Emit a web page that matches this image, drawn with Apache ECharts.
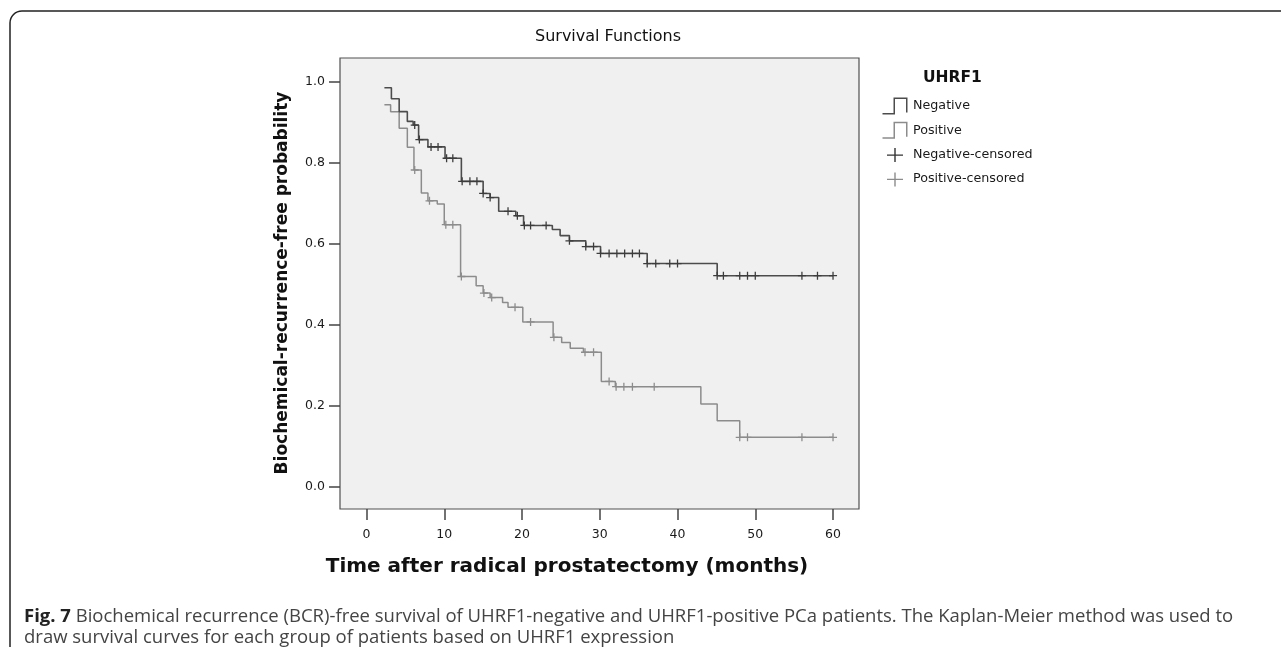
<!DOCTYPE html>
<html><head><meta charset="utf-8">
<script src="https://cdn.jsdelivr.net/npm/echarts@6/dist/echarts.min.js"></script>
<style>html,body{margin:0;padding:0;background:#fff}#c{width:1281px;height:647px}</style>
</head><body><div id="c"></div>
<script>
// ---- data ----
const negEventTimes = [2.3, 3.2, 4.2, 5.25, 6.0, 6.7, 7.9, 10.1, 12.2, 15.0, 15.9, 17.0, 19.2, 20.2, 23.9, 24.9, 26.1, 28.2, 30.1, 36.1, 45.1];
const negSurvival   = [0.985, 0.958, 0.926, 0.902, 0.893, 0.857, 0.839, 0.811, 0.754, 0.724, 0.714, 0.680, 0.669, 0.645, 0.635, 0.620, 0.607, 0.593, 0.576, 0.551, 0.521];
const negCensorTimes = [6.2, 6.8, 8.3, 9.2, 10.3, 11.1, 12.3, 13.3, 14.2, 15.0, 15.9, 18.2, 19.4, 20.3, 21.1, 23.1, 26.1, 28.2, 29.2, 30.1, 31.2, 32.2, 33.2, 34.2, 35.1, 36.1, 37.2, 39.0, 40.0, 45.1, 45.9, 48.0, 49.0, 50.0, 56.0, 58.0, 60.0];
const posEventTimes = [2.3, 3.1, 4.2, 5.25, 6.1, 7.05, 7.9, 9.1, 10.0, 12.1, 14.1, 15.0, 15.9, 17.5, 18.2, 20.1, 24.0, 25.1, 26.2, 27.9, 30.2, 32.0, 43.0, 45.1, 48.0];
const posSurvival   = [0.943, 0.926, 0.885, 0.838, 0.782, 0.725, 0.706, 0.698, 0.647, 0.519, 0.496, 0.478, 0.467, 0.455, 0.443, 0.407, 0.369, 0.356, 0.342, 0.332, 0.260, 0.247, 0.204, 0.163, 0.122];
const posCensorTimes = [6.2, 8.1, 10.2, 11.1, 12.2, 15.1, 16.1, 19.1, 21.1, 24.1, 28.1, 29.2, 31.2, 32.1, 33.1, 34.2, 37.0, 48.0, 49.0, 56.0, 60.0];
const xTicks = [0, 10, 20, 30, 40, 50, 60];
const yTicks = [0, 0.2, 0.4, 0.6, 0.8, 1.0];
const seriesNames = ['Negative', 'Positive', 'Negative-censored', 'Positive-censored'];
const legendTitle = 'UHRF1';
const chartTitle = 'Survival Functions';
const xTitle = 'Time after radical prostatectomy (months)';
const yTitle = 'Biochemical-recurrence-free probability';
const captionLine1 = '{b|Fig. 7} Biochemical recurrence (BCR)-free survival of UHRF1-negative and UHRF1-positive PCa patients. The Kaplan-Meier method was used to';
const captionLine2 = 'draw survival curves for each group of patients based on UHRF1 expression';

// ---- helpers ----
function stepData(times, surv, endT) {
  const d = times.map((t, i) => [t, surv[i]]);
  d.push([endT, surv[surv.length - 1]]);
  return d;
}
function survAt(times, surv, t) {
  let s = surv[0];
  for (let i = 0; i < times.length; i++) if (times[i] <= t + 1e-9) s = surv[i];
  return s;
}
function censorData(cTimes, times, surv) {
  return cTimes.map(t => [t, survAt(times, surv, t)]);
}
const endT = Math.max(...negCensorTimes, ...posCensorTimes);

const negColor = '#4c4c4c';
const posColor = '#8c8c8c';
const plusPath = 'path://M0,4.2 H4.2 V0 H5.8 V4.2 H10 V5.8 H5.8 V10 H4.2 V5.8 H0 Z';
const stepIcon = 'path://M0,15.5 L11,15.5 L11,0 L25,0 L25,15 L23.5,15 L23.5,1.5 L12.5,1.5 L12.5,17 L0,17 Z';
const plusIcon = 'path://M0,0 h0.01 v0.01 h-0.01 Z M26,17 h-0.01 v-0.01 h0.01 Z M5,8.3 H12.3 V2 H13.7 V8.3 H21 V9.7 H13.7 V16 H12.3 V9.7 H5 Z';

const chart = echarts.init(document.getElementById('c'), null, {renderer: 'canvas'});
const chartFont = 'DejaVu Sans';

chart.setOption({
  backgroundColor: '#ffffff',
  animation: false,
  grid: {
    left: 340, top: 58, width: 519, height: 451,
    show: true, backgroundColor: '#f0f0f0', borderColor: '#505050', borderWidth: 1.2
  },
  xAxis: {
    type: 'value', min: -3.41, max: 63.34, position: 'bottom',
    axisLine: {show: false, onZero: false},
    splitLine: {show: false},
    axisTick: {show: true, length: 11, customValues: xTicks, lineStyle: {color: '#444', width: 1.5}},
    axisLabel: {customValues: xTicks, margin: 19, fontFamily: chartFont, fontSize: 12.5, color: '#1a1a1a'}
  },
  yAxis: {
    type: 'value', min: -0.055, max: 1.0585, position: 'left',
    axisLine: {show: false, onZero: false},
    splitLine: {show: false},
    axisTick: {show: true, length: 11, customValues: yTicks, lineStyle: {color: '#444', width: 1.5}},
    axisLabel: {customValues: yTicks, margin: 15, fontFamily: chartFont, fontSize: 12.5, color: '#1a1a1a',
      formatter: v => v.toFixed(1)}
  },
  legend: {
    orient: 'vertical', left: 877, top: 92.5,
    itemWidth: 26, itemHeight: 17, itemGap: 7.3, selectedMode: false,
    textStyle: {fontFamily: chartFont, fontSize: 12.7, color: '#1a1a1a'},
    data: [
      {name: seriesNames[0], icon: stepIcon, itemStyle: {color: negColor, borderWidth: 0}},
      {name: seriesNames[1], icon: stepIcon, itemStyle: {color: posColor, borderWidth: 0}},
      {name: seriesNames[2], icon: plusIcon, itemStyle: {color: '#333', borderWidth: 0}},
      {name: seriesNames[3], icon: plusIcon, itemStyle: {color: posColor, borderWidth: 0}}
    ]
  },
  graphic: [
    {type: 'rect', silent: true, z: -1,
      shape: {x: 10, y: 11, width: 1300, height: 700, r: [12, 0, 0, 0]},
      style: {fill: 'none', stroke: '#222', lineWidth: 1.5}},
    {type: 'text', x: 608, y: 37,
      style: {text: chartTitle, font: '16px "DejaVu Sans"', fill: '#111', textAlign: 'center', textVerticalAlign: 'middle'}},
    {type: 'text', x: 923, y: 78,
      style: {text: legendTitle, font: 'bold 15.5px "DejaVu Sans"', fill: '#111', textAlign: 'left', textVerticalAlign: 'middle'}},
    {type: 'text', x: 567, y: 567,
      style: {text: xTitle, font: 'bold 20px "DejaVu Sans"', fill: '#111', textAlign: 'center', textVerticalAlign: 'middle'}},
    {type: 'text', x: 283, y: 283, rotation: Math.PI / 2,
      style: {text: yTitle, font: 'bold 17px "DejaVu Sans"', fill: '#111', textAlign: 'center', textVerticalAlign: 'middle'}},
    {type: 'text', x: 24, y: 617,
      style: {text: captionLine1, font: '18.5px "Open Sans"', fill: '#444', textAlign: 'left', textVerticalAlign: 'middle',
        rich: {b: {fontWeight: 'bold', fontFamily: 'Open Sans', fontSize: 18.5, fill: '#222'}}}},
    {type: 'text', x: 24, y: 638,
      style: {text: captionLine2, font: '18.5px "Open Sans"', fill: '#444', textAlign: 'left', textVerticalAlign: 'middle'}}
  ],
  series: [
    {name: seriesNames[0], type: 'line', step: 'end', showSymbol: false, z: 3,
      data: stepData(negEventTimes, negSurvival, endT),
      lineStyle: {color: negColor, width: 1.6}, itemStyle: {color: negColor}},
    {name: seriesNames[1], type: 'line', step: 'end', showSymbol: false, z: 2,
      data: stepData(posEventTimes, posSurvival, endT),
      lineStyle: {color: posColor, width: 1.5}, itemStyle: {color: posColor}},
    {name: seriesNames[2], type: 'scatter', symbol: plusPath, symbolSize: [8, 8], z: 4,
      data: censorData(negCensorTimes, negEventTimes, negSurvival),
      itemStyle: {color: '#3c3c3c', opacity: 1}},
    {name: seriesNames[3], type: 'scatter', symbol: plusPath, symbolSize: [8, 8], z: 4,
      data: censorData(posCensorTimes, posEventTimes, posSurvival),
      itemStyle: {color: posColor, opacity: 1}}
  ]
});
</script></body></html>
